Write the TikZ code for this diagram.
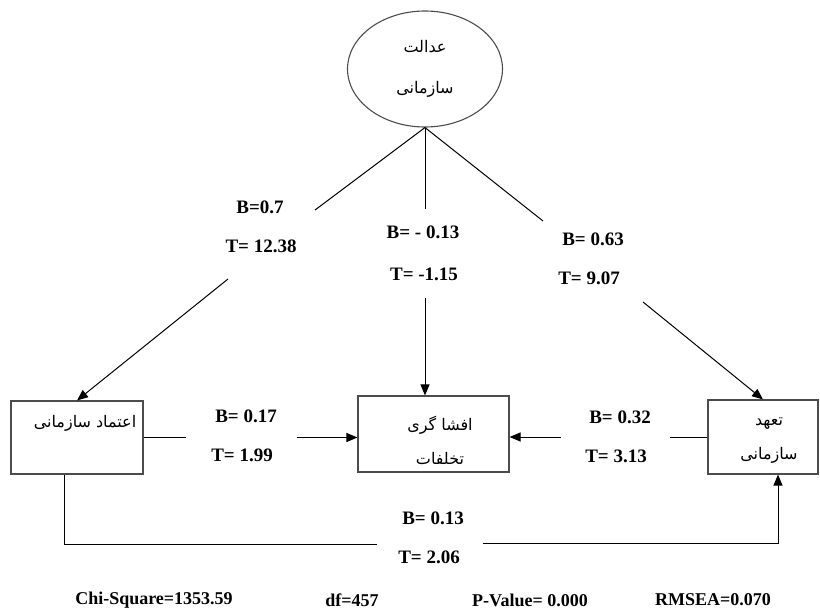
\documentclass[tikz,border=0pt]{standalone}
\usepackage{fontspec}
\setmainfont{Liberation Serif}
\newfontfamily\farsifont[Script=Arabic]{DejaVu Sans}
\TeXXeTstate=1
\usetikzlibrary{shapes.geometric, arrows.meta, positioning}
\newcommand{\rtl}[1]{\beginR #1\endR}

\begin{document}
\begin{tikzpicture}[x=1pt, y=-1pt,
  latent/.style={ellipse, draw=black!70, line width=1.1pt, minimum width=155pt, minimum height=116pt, align=center, font=\farsifont\fontsize{16}{41}\selectfont},
  observed/.style={rectangle, draw=black!70, line width=1.1pt},
  fa/.style={align=center, inner sep=0pt, font=\farsifont\fontsize{16}{34}\selectfont},
  coef/.style={inner sep=0pt, font=\bfseries\fontsize{19}{23}\selectfont},
  fitstat/.style={inner sep=0pt, font=\bfseries\fontsize{18}{22}\selectfont},
  link/.style={line width=1pt},
  arr/.style={line width=1pt, -{Triangle[length=11pt, width=9pt]}}
]
  \useasboundingbox (0,0) rectangle (820,610);
  \node[latent] (justice) at (425,69) {\rtl{عدالت}\\\rtl{سازمانی}};
  \node[observed, minimum width=132pt, minimum height=73pt] (trust) at (77,437.5) {};
  \node[observed, minimum width=151pt, minimum height=76pt] (disclose) at (433.5,434) {};
  \node[observed, minimum width=110pt, minimum height=74pt] (commit) at (763,437) {};
  \node[fa] (trusttxt) at (85,423) {\rtl{اعتماد سازمانی}};
  \node[fa] (disctxt) at (440,440) {\rtl{افشا گری}\\\rtl{تخلفات}};
  \node[fa] (committxt) at (769,440.5) {\rtl{تعهد}\\\rtl{سازمانی}};
  \coordinate (l1) at (315,210);
  \coordinate (l2) at (228,279);
  \coordinate (m1) at (425,209);
  \coordinate (m2) at (425,298);
  \coordinate (r1) at (543,221);
  \coordinate (r2) at (643,302);
  \coordinate (h1) at (186,437.5);
  \coordinate (h2) at (297,437.5);
  \coordinate (h3) at (670,437);
  \coordinate (h4) at (561,437);
  \coordinate (b1) at (64,544);
  \coordinate (b2) at (377,544);
  \coordinate (b3) at (483,543);
  \coordinate (b4) at (778,543);
  \draw[link] (justice.south) -- (l1);
  \draw[arr] (l2) -- (trust.north);
  \draw[link] (justice.south) -- (m1);
  \draw[arr] (m2) -- (m2 |- disclose.north);
  \draw[link] (justice.south) -- (r1);
  \draw[arr] (r2) -- (commit.north);
  \draw[link] (trust.east) -- (h1);
  \draw[arr] (h2) -- (h2 -| disclose.west);
  \draw[link] (commit.west) -- (h3);
  \draw[arr] (h4) -- (h4 -| disclose.east);
  \draw[link] (b1 |- trust.south) -- (b1) -- (b2);
  \draw[arr] (b3) -- (b4) -- (b4 |- commit.south);
  \node[coef] (b-jt) at (260,207) {B=0.7};
  \node[coef] (t-jt) at (261,246) {T= 12.38};
  \node[coef] (b-jd) at (423,232) {B= - 0.13};
  \node[coef] (t-jd) at (424,274) {T= -1.15};
  \node[coef] (b-jc) at (593,239) {B= 0.63};
  \node[coef] (t-jc) at (589,278) {T= 9.07};
  \node[coef] (b-td) at (246,416) {B= 0.17};
  \node[coef] (t-td) at (242,455) {T= 1.99};
  \node[coef] (b-cd) at (620,417) {B= 0.32};
  \node[coef] (t-cd) at (616,456) {T= 3.13};
  \node[coef] (b-tc) at (433,518) {B= 0.13};
  \node[coef] (t-tc) at (429,557) {T= 2.06};
  \node[fitstat] (chisq) at (154,600) {Chi-Square=1353.59};
  \node[fitstat] (dof) at (352,600) {df=457};
  \node[fitstat] (pval) at (530,600) {P-Value= 0.000};
  \node[fitstat] (rmsea) at (713,600) {RMSEA=0.070};
\end{tikzpicture}
\end{document}
